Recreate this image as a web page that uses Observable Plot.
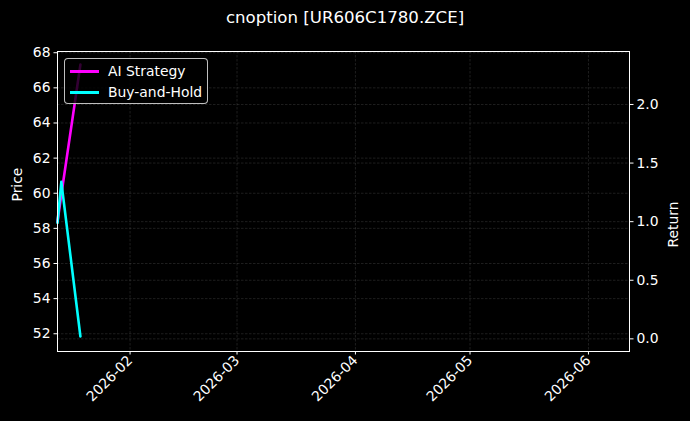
<!DOCTYPE html>
<html><head><meta charset="utf-8">
<script src="https://cdn.jsdelivr.net/npm/d3@7"></script>
<script src="https://cdn.jsdelivr.net/npm/@observablehq/plot@0.6"></script>
<style>
html,body{margin:0;padding:0;background:#000;}
body{width:690px;height:421px;overflow:hidden;font-family:"DejaVu Sans",sans-serif;color:#fff;}
#wrap{position:relative;width:690px;height:421px;}
#title{height:36px;line-height:36px;text-align:center;font-size:16.6px;color:#fff;}
#legend{position:absolute;left:64px;top:58px;width:144px;height:46px;box-sizing:border-box;border:1px solid rgba(255,255,255,0.75);border-radius:4px;background:rgba(0,0,0,0.8);}
.item{position:absolute;left:0;height:20px;width:100%;}
.sw{position:absolute;left:5px;top:9px;width:29px;height:2.6px;}
.lab{position:absolute;left:43px;top:0;font-size:13.9px;line-height:20px;color:#fff;white-space:nowrap;}
</style>
</head><body>
<div id="wrap">
<div id="title"></div>
<div id="chart"></div>
<div id="legend"></div>
</div>
<script>
const titleText = "cnoption [UR606C1780.ZCE]";
const seriesNames = ["AI Strategy", "Buy-and-Hold"];
const seriesColors = ["#ff00ff", "#00ffff"];
const dates = ["2026-01-13", "2026-01-14", "2026-01-19"];
const aiReturn = [1.00, 1.23, 2.34];
const bhReturn = [0.99, 1.34, 0.02];
const monthTicks = ["2026-02-01", "2026-03-01", "2026-04-01", "2026-05-01", "2026-06-01"];
const priceTicks = [52, 54, 56, 58, 60, 62, 64, 66, 68];
const returnTicks = [0.0, 0.5, 1.0, 1.5, 2.0];
const priceLimits = [50.99, 68.07];
const returnLimits = [-0.108, 2.452];
const xLimits = ["2026-01-13T00:00:00Z", "2026-06-11T18:00:00Z"];

document.getElementById("title").textContent = titleText;

const toRet = d3.scaleLinear().domain(priceLimits).range(returnLimits);
const parse = s => new Date(s.length === 10 ? s + "T00:00:00Z" : s);

const values = [aiReturn, bhReturn];
const data = [];
seriesNames.forEach((name, k) => {
  dates.forEach((d, i) => data.push({date: parse(d), series: name, value: values[k][i]}));
});

const gridStyle = {stroke: "#ffffff", strokeOpacity: 0.2, strokeWidth: 0.6, strokeDasharray: "2.5,1.5"};

const chart = Plot.plot({
  width: 690,
  height: 385,
  marginLeft: 57,
  marginRight: 61,
  marginTop: 15,
  marginBottom: 70,
  style: {background: "#000", color: "#fff", fontFamily: "DejaVu Sans, sans-serif", fontSize: "13.9px"},
  x: {type: "utc", domain: xLimits.map(parse)},
  y: {domain: returnLimits},
  color: {domain: seriesNames, range: seriesColors},
  marks: [
    Plot.gridX({ticks: monthTicks.map(parse), ...gridStyle}),
    Plot.gridY({ticks: priceTicks.map(p => toRet(p)), ...gridStyle}),
    Plot.gridY({ticks: returnTicks, ...gridStyle}),
    Plot.line(data, {x: "date", y: "value", z: "series", stroke: "series", strokeWidth: 2.6}),
    Plot.frame({stroke: "#fff", strokeWidth: 1}),
    Plot.axisX({ticks: monthTicks.map(parse), tickFormat: d3.utcFormat("%Y-%m"), tickRotate: -45, tickSize: 3.5, tickPadding: 3, label: null, stroke: "#fff", fill: "#fff", fontSize: 13.9}),
    Plot.axisY({anchor: "left", ticks: priceTicks.map(p => toRet(p)), tickFormat: r => String(Math.round(toRet.invert(r))), tickSize: 3.5, tickPadding: 3.5, label: null, stroke: "#fff", fill: "#fff", fontSize: 13.9}),
    Plot.axisY({anchor: "right", ticks: returnTicks, tickFormat: d3.format(".1f"), tickSize: 3.5, tickPadding: 3.5, label: null, stroke: "#fff", fill: "#fff", fontSize: 13.9}),
    Plot.text(["Price"], {frameAnchor: "left", dx: -40, rotate: -90, fill: "#fff", fontSize: 13.9}),
    Plot.text(["Return"], {frameAnchor: "right", dx: 44, rotate: -90, fill: "#fff", fontSize: 13.9})
  ]
});
document.getElementById("chart").appendChild(chart);

const legend = document.getElementById("legend");
seriesNames.forEach((name, k) => {
  const it = document.createElement("div");
  it.className = "item";
  it.style.top = (2 + k * 21) + "px";
  const sw = document.createElement("div");
  sw.className = "sw";
  sw.style.background = seriesColors[k];
  const lb = document.createElement("div");
  lb.className = "lab";
  lb.textContent = name;
  it.appendChild(sw); it.appendChild(lb);
  legend.appendChild(it);
});
</script>
</body></html>
